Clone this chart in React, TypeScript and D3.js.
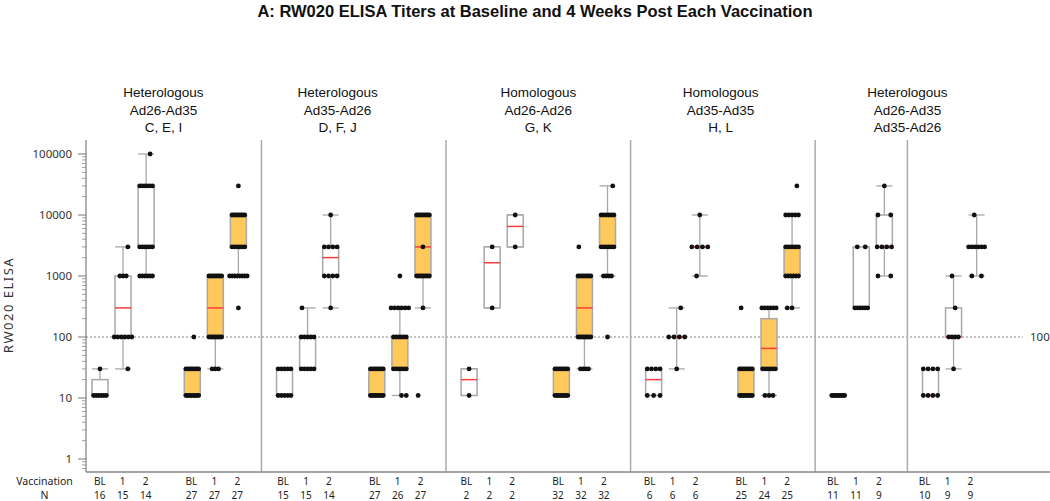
import React from "react";
import * as d3 from "d3";

const title = "A: RW020 ELISA Titers at Baseline and 4 Weeks Post Each Vaccination";
const yLabel = "RW020 ELISA";
const headerLines = [
  ["Heterologous", "Ad26-Ad35", "C, E, I"],
  ["Heterologous", "Ad35-Ad26", "D, F, J"],
  ["Homologous", "Ad26-Ad26", "G, K"],
  ["Homologous", "Ad35-Ad35", "H, L"],
  ["Heterologous", "Ad26-Ad35", "Ad35-Ad26"],
];
const headerSlots = [3.75, 11.3, 20, 27.9, 36];
const separatorSlots = [8, 16, 24, 32, 36];
const visitLabels = ["BL", "1", "2"];
const groupFills = ["white", "orange", "white", "orange", "white", "orange", "white", "orange", "white", "white"];
const groupN = [
  [16, 15, 14], [27, 27, 27], [15, 15, 14], [27, 26, 27], [2, 2, 2],
  [32, 32, 32], [6, 6, 6], [25, 24, 25], [11, 11, 9], [10, 9, 9],
];
// [whiskerLow, q1, median, q3, whiskerHigh]
const groupStats = [
  [[11, 11, 11, 20, 30], [30, 100, 300, 1000, 3000], [1000, 3000, 3000, 30000, 100000]],
  [[11, 11, 11, 30, 30], [30, 100, 300, 1000, 1000], [1000, 3000, 3000, 10000, 10000]],
  [[11, 11, 11, 30, 30], [30, 30, 100, 100, 300], [300, 1000, 2000, 3000, 10000]],
  [[11, 11, 11, 30, 30], [11, 30, 30, 100, 300], [300, 1000, 3000, 10000, 10000]],
  [[11, 11, 20, 30, 30], [300, 300, 1650, 3000, 3000], [3000, 3000, 6500, 10000, 10000]],
  [[11, 11, 11, 30, 30], [30, 100, 300, 1000, 1000], [1000, 3000, 3000, 10000, 30000]],
  [[11, 11, 20, 30, 30], [30, 100, 100, 100, 300], [1000, 3000, 3000, 3000, 10000]],
  [[11, 11, 30, 30, 30], [11, 30, 65, 200, 300], [300, 1000, 3000, 3000, 10000]],
  [[11, 11, 11, 11, 11], [300, 300, 300, 3000, 3000], [1000, 3000, 3000, 10000, 30000]],
  [[11, 11, 11, 30, 30], [30, 100, 100, 300, 1000], [1000, 3000, 3000, 3000, 10000]],
];
// individual observations: [value, count, jitterCenter, jitterSpread]
const groupPoints = [
  [
    [[30, 1], [11, 6]],
    [[3000, 1, 0.6], [1000, 3, 0, 0.4], [100, 6, 0, 1.1], [30, 1, 0.6]],
    [[100000, 1, 0.5], [30000, 6], [3000, 6], [1000, 6]],
  ],
  [
    [[100, 1, 0.2], [30, 8], [11, 8]],
    [[1000, 8], [100, 8], [30, 3, 0, 0.4]],
    [[30000, 1], [10000, 8], [3000, 6], [1000, 8, 0, 1.1], [300, 1]],
  ],
  [
    [[30, 5], [11, 5]],
    [[300, 1, -0.7], [100, 5], [30, 5]],
    [[10000, 1], [3000, 4], [1000, 4], [300, 1]],
  ],
  [
    [[30, 8], [11, 8]],
    [[1000, 1], [300, 6, 0, 1.1], [100, 6], [30, 6], [11, 2, 0.5, 0.3]],
    [[10000, 8], [3000, 1], [1000, 8], [300, 1], [11, 1, -0.6]],
  ],
  [
    [[30, 1], [11, 1]],
    [[3000, 1], [300, 1]],
    [[10000, 1], [3000, 1]],
  ],
  [
    [[30, 8], [11, 8]],
    [[3000, 1, -0.7], [1000, 8], [100, 8], [30, 4, 0, 0.5]],
    [[30000, 1, 0.65], [10000, 6], [3000, 6], [1000, 4, 0, 0.5], [100, 1]],
  ],
  [
    [[30, 4], [11, 3]],
    [[300, 1, 0.5], [100, 4, 0, 1], [30, 1]],
    [[10000, 1], [3000, 4, 0, 1], [1000, 1, -0.4]],
  ],
  [
    [[300, 1, -0.6], [30, 8], [11, 8]],
    [[300, 6, 0, 0.9], [30, 6], [11, 3, 0, 0.5]],
    [[30000, 1, 0.6], [10000, 5], [3000, 6], [1000, 6], [300, 2, -0.3, 0.3]],
  ],
  [
    [[11, 8]],
    [[3000, 2, 0, 0.5], [300, 6]],
    [[30000, 1], [10000, 2, 0, 0.8], [3000, 4, 0, 0.9], [1000, 2, 0, 0.8]],
  ],
  [
    [[30, 4, 0, 0.9], [11, 4, 0, 0.9]],
    [[1000, 1, -0.2], [300, 1, 0.2], [100, 4, 0, 0.6], [30, 1]],
    [[10000, 1, -0.3], [3000, 6, 0, 1], [1000, 2, 0, 0.6]],
  ],
];
const yTicks = [1, 10, 100, 1000, 10000, 100000];
const refValue = 100;

const W = 1050;
const H = 501;
const plotTop = 140;
const plotBottom = 472;
const plotLeft = 86;
const refRight = 1023;

const FILL_ORANGE = "#FFC85A";
const STROKE = "#A8A8A8";
const MEDIAN = "#FF3B3B";
const SANS = "'Noto Sans', 'DejaVu Sans', sans-serif";
const ARIAL = "'Liberation Sans', Arial, sans-serif";

export default function App() {
  const x = d3.scaleLinear().domain([0, 40]).range([76.9, 999.7]);
  const y = d3.scaleLog().domain([1, 100000]).range([459, 154]);
  const hw = 8;

  const minorTicks: number[] = [];
  for (let e = -1; e <= 5; e++) {
    for (let m = 2; m <= 9; m++) {
      const v = m * Math.pow(10, e);
      const py = y(v);
      if (py >= plotTop && py <= plotBottom) minorTicks.push(v);
    }
  }

  const boxes: any[] = [];
  groupStats.forEach((stats, g) => {
    stats.forEach((s, k) => {
      boxes.push({ g, k, s, slot: 4 * g + 1 + k, pts: groupPoints[g][k], n: groupN[g][k] });
    });
  });

  const row1 = 485;
  const row2 = 498.5;
  const labFont = 10;

  return (
    <svg
      width={W}
      height={H}
      style={{ position: "absolute", left: 0, top: 0, background: "white" }}
    >
      <text x={535} y={17} textAnchor="middle" fontFamily={ARIAL} fontWeight="bold" fontSize={16.5} fill="#111">
        {title}
      </text>

      {headerLines.map((lines, i) =>
        lines.map((t, j) => (
          <text
            key={`h${i}-${j}`}
            x={x(headerSlots[i])}
            y={97 + j * 17.6}
            textAnchor="middle"
            fontFamily={ARIAL}
            fontSize={13.5}
            fill="#111"
          >
            {t}
          </text>
        ))
      )}

      {/* reference line */}
      <line x1={plotLeft} x2={refRight} y1={y(refValue)} y2={y(refValue)} stroke="#777" strokeWidth={0.9} strokeDasharray="2,2" />
      <text x={1030} y={y(refValue) + 4} fontFamily={SANS} fontSize={11.5} fill="#333">
        {refValue}
      </text>

      {/* separators */}
      {separatorSlots.map((s, i) => (
        <line key={`sep${i}`} x1={x(s)} x2={x(s)} y1={plotTop} y2={plotBottom} stroke="#AAAAAA" strokeWidth={1.5} />
      ))}

      {/* axes */}
      <line x1={plotLeft} x2={plotLeft} y1={plotTop} y2={plotBottom} stroke="#888" strokeWidth={1.3} />
      <line x1={plotLeft} x2={W} y1={plotBottom} y2={plotBottom} stroke="#888" strokeWidth={1.3} />
      {yTicks.map((t) => (
        <g key={`yt${t}`}>
          <line x1={plotLeft - 8} x2={plotLeft} y1={y(t)} y2={y(t)} stroke="#777" strokeWidth={1} />
          <text x={72} y={y(t) + 4} textAnchor="end" fontFamily={SANS} fontSize={11.5} fill="#333">
            {t}
          </text>
        </g>
      ))}
      {minorTicks.map((t, i) => (
        <line key={`mt${i}`} x1={plotLeft - 4} x2={plotLeft} y1={y(t)} y2={y(t)} stroke="#888" strokeWidth={0.8} />
      ))}
      <text
        transform={`translate(13,305) rotate(-90)`}
        textAnchor="middle"
        fontFamily={SANS}
        fontSize={13}
        letterSpacing={1.5}
        fill="#333"
      >
        {yLabel}
      </text>

      {/* boxes */}
      {boxes.map((b, i) => {
        const cx = x(b.slot);
        const [wlo, q1, med, q3, whi] = b.s;
        const fill = groupFills[b.g] === "orange" ? FILL_ORANGE : "white";
        return (
          <g key={`b${i}`}>
            <line x1={cx} x2={cx} y1={y(whi)} y2={y(q3)} stroke={STROKE} strokeWidth={1.3} />
            <line x1={cx} x2={cx} y1={y(q1)} y2={y(wlo)} stroke={STROKE} strokeWidth={1.3} />
            <line x1={cx - hw} x2={cx + hw} y1={y(whi)} y2={y(whi)} stroke={STROKE} strokeWidth={1.3} />
            <line x1={cx - hw} x2={cx + hw} y1={y(wlo)} y2={y(wlo)} stroke={STROKE} strokeWidth={1.3} />
            <rect
              x={cx - hw}
              y={y(q3)}
              width={2 * hw}
              height={Math.max(0.01, y(q1) - y(q3))}
              fill={fill}
              stroke={STROKE}
              strokeWidth={1.5}
            />
            <line x1={cx - hw} x2={cx + hw} y1={y(med)} y2={y(med)} stroke={MEDIAN} strokeWidth={1.5} />
            {b.pts.map((p: number[], j: number) => {
              const [v, n, jc = 0, ws] = p;
              const spread = ws !== undefined ? ws : n > 1 ? 0.8 : 0;
              const offs = n > 1 ? d3.range(n).map((q) => -spread + (2 * spread * q) / (n - 1)) : [0];
              return offs.map((o, q) => (
                <circle key={`p${j}-${q}`} cx={cx + (jc + o) * hw} cy={y(v)} r={2.4} fill="#111" />
              ));
            })}
          </g>
        );
      })}

      {/* bottom labels */}
      <text x={44.5} y={row1} textAnchor="middle" fontFamily={SANS} fontSize={labFont + 0.5} fill="#222">Vaccination</text>
      <text x={44.5} y={row2} textAnchor="middle" fontFamily={SANS} fontSize={labFont + 0.5} fill="#222">N</text>
      {boxes.map((b, i) => {
        const lx = x(b.slot) - (b.slot / 38) * 6;
        return (
          <g key={`lab${i}`}>
            <text x={lx} y={row1} textAnchor="middle" fontFamily={SANS} fontSize={labFont} fill="#222">
              {visitLabels[b.k]}
            </text>
            <text x={lx} y={row2} textAnchor="middle" fontFamily={SANS} fontSize={labFont} fill="#222">
              {b.n}
            </text>
          </g>
        );
      })}
    </svg>
  );
}
